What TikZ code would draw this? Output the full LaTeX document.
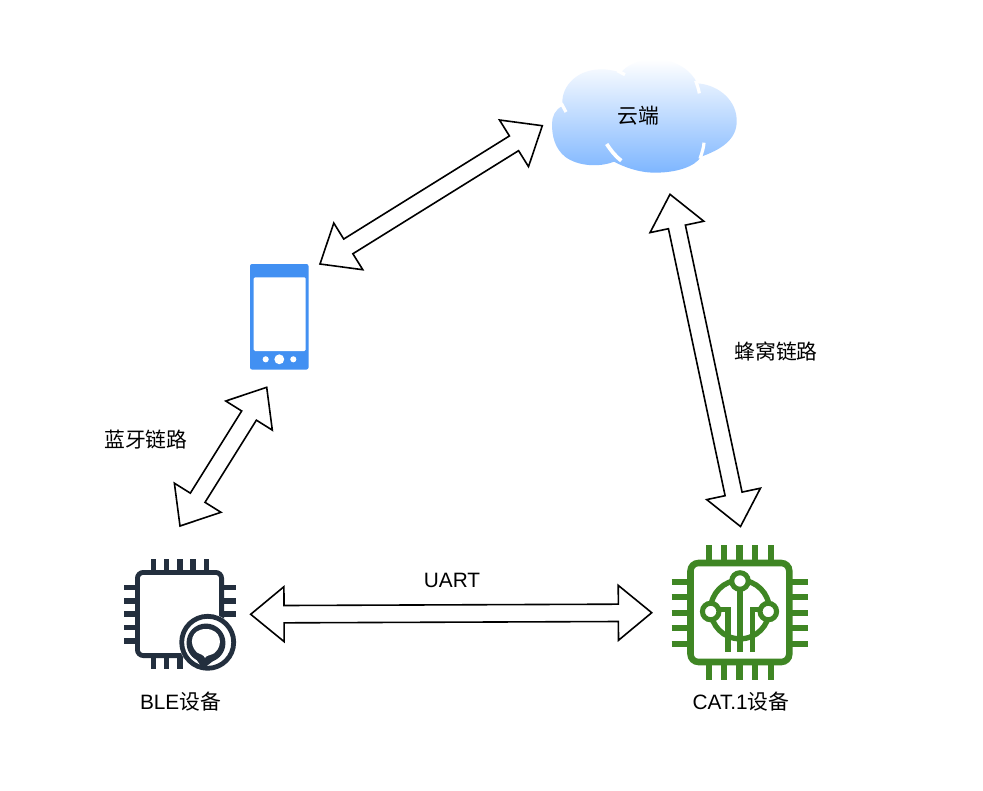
\documentclass[tikz,border=0pt]{standalone}
\usepackage{fontspec}
\setmainfont{Liberation Sans}
\newfontfamily\cjk{Noto Sans CJK SC}
\usetikzlibrary{calc}
\definecolor{bleink}{HTML}{232F3E}
\definecolor{catgreen}{HTML}{3F8624}
\definecolor{phoneblue}{HTML}{4290F2}
\definecolor{cloudblue}{HTML}{7EB6FF}
\tikzset{
  flatarrow/.style={draw=black,fill=white,line width=1.2pt,line join=miter},
  lbl/.style={inner sep=0pt,font=\fontsize{15.6pt}{18pt}\selectfont,text=black},
  blepin/.style={draw=bleink,line width=4.2pt},
  catpin/.style={draw=catgreen,line width=4.6pt},
  cattrace/.style={draw=catgreen,line width=4pt},
  anchorpt/.style={inner sep=0pt,minimum size=0pt}
}
% double block arrow between two named points
\newcommand{\blockarrow}[2]{%
  \draw[flatarrow] (#1)
    -- ($(#1)!25pt!(#2)!20.6pt!90:(#2)$)
    -- ($(#1)!25pt!(#2)!6.5pt!90:(#2)$)
    -- ($(#2)!25pt!(#1)!6.5pt!-90:(#1)$)
    -- ($(#2)!25pt!(#1)!20.6pt!-90:(#1)$)
    -- (#2)
    -- ($(#2)!25pt!(#1)!20.6pt!90:(#1)$)
    -- ($(#2)!25pt!(#1)!6.5pt!90:(#1)$)
    -- ($(#1)!25pt!(#2)!6.5pt!-90:(#2)$)
    -- ($(#1)!25pt!(#2)!20.6pt!-90:(#2)$)
    -- cycle;}
\begin{document}
\begin{tikzpicture}[x=0.75pt,y=-0.75pt]
\useasboundingbox (0,0) rectangle (983,790);
\fill[white] (0,0) rectangle (983,790);

% ---------- cloud ----------
\begin{scope}[shift={(540,50)},x=0.25pt,y=-0.25pt]
  \shade[top color=white,bottom color=cloudblue]
    (68,168) .. controls (60,115) and (105,60) .. (180,58)
    .. controls (205,57) and (230,64) .. (243,68)
    .. controls (262,42) and (305,28) .. (345,28)
    .. controls (410,30) and (452,60) .. (472,100)
    .. controls (540,105) and (592,155) .. (590,215)
    .. controls (590,270) and (540,300) .. (483,320)
    .. controls (465,350) and (410,368) .. (345,368)
    .. controls (295,368) and (250,350) .. (222,335)
    .. controls (180,352) and (115,350) .. (75,320)
    .. controls (45,295) and (36,260) .. (36,222)
    .. controls (36,200) and (45,178) .. (68,168) -- cycle;
  \draw[white,line width=2.4pt] (64,160) -- (78,186);
  \draw[white,line width=2.4pt] (232,62) -- (255,74);
  \draw[white,line width=2.4pt] (467,92) .. controls (472,106) and (476,118) .. (478,130);
  \draw[white,line width=2.4pt] (492,278) .. controls (491,292) and (487,306) .. (480,326);
  \draw[white,line width=2.8pt] (200,282) .. controls (212,300) and (225,318) .. (244,332);
\end{scope}
\node[lbl] (cloudlabel) at (638,115.5) {\cjk 云端};

% ---------- phone ----------
\node[anchorpt] (phone) at (279,317) {};
\fill[phoneblue,rounded corners=1.5pt] (250,264) rectangle (308.5,369.5);
\fill[white,rounded corners=1pt] (253.7,277.3) rectangle (305.7,351);
\fill[white] (265.7,359.3) circle[radius=2.3pt];
\fill[white] (279.3,359.3) circle[radius=3.7pt];
\fill[white] (293.3,359.3) circle[radius=2.3pt];

% ---------- BLE chip ----------
\node[anchorpt] (ble) at (180,614) {};
\foreach \x in {153.3,166.6,179.9,193.2,206.5} \draw[blepin] (\x,559) -- (\x,572);
\foreach \x in {153.3,166.6,179.9} \draw[blepin] (\x,656) -- (\x,669);
\foreach \y in {587.3,600.7,614,627.3,640.7} \draw[blepin] (124,\y) -- (137,\y);
\foreach \y in {587.3,600.7,614} \draw[blepin] (222,\y) -- (235.7,\y);
\draw[draw=bleink,line width=3.6pt,rounded corners=4.5pt] (137.4,572.4) rectangle (221.6,655.6);
\fill[white] (207.7,642.3) circle[radius=21.5pt];
\draw[bleink,line width=3.6pt] (207.7,642.3) circle[radius=19.5pt];
\fill[bleink] (206,643) circle[radius=14.6pt];
\fill[bleink] (194,656) -- (218,657) -- (203,669) -- cycle;
\fill[white]
  (205,658) .. controls (204,655) and (200,654) .. (197,652.5)
  .. controls (188,644) and (191,629) .. (206,629)
  .. controls (221,629) and (224,645) .. (214.5,653)
  .. controls (211,655.5) and (206,655) .. (205,658) -- cycle;

% ---------- CAT.1 chip ----------
\node[anchorpt] (cat) at (740,612.5) {};
\foreach \x in {708.7,724,739.5,755,770.7} {
  \draw[catpin] (\x,545) -- (\x,563);
  \draw[catpin] (\x,662) -- (\x,680);}
\foreach \y in {581.7,597,612.7,628.3,643.7} {
  \draw[catpin] (671.7,\y) -- (690,\y);
  \draw[catpin] (789,\y) -- (808,\y);}
\draw[draw=catgreen,line width=4.9pt,rounded corners=6pt] (690.5,563) rectangle (789.3,662);
\draw[cattrace] (740,609.5) circle[radius=22pt];
\draw[cattrace,line join=miter] (710.7,609.3) -- (728,609.3) -- (728,651.7);
\draw[cattrace,line join=miter] (768.3,609.3) -- (752.3,609.3) -- (752.3,651.7);
\draw[cattrace] (740,581) -- (740,651.7);
\draw[catgreen,line width=3.8pt,fill=white] (740,581) circle[radius=6.2pt];
\draw[catgreen,line width=3.8pt,fill=white] (710.7,611.5) circle[radius=6.2pt];
\draw[catgreen,line width=3.8pt,fill=white] (768.3,611.5) circle[radius=6.2pt];

% ---------- connectors ----------
\coordinate (phoneEnd) at (320,264);
\coordinate (cloudEnd) at (542.3,125.7);
\coordinate (cloudDown) at (670,194.3);
\coordinate (catUp) at (740.5,526.5);
\coordinate (phoneDown) at (266.7,387.3);
\coordinate (bleUp) at (180,526);
\coordinate (bleRight) at (250.7,614.3);
\coordinate (catLeft) at (651.7,612.7);
\blockarrow{phoneEnd}{cloudEnd}
\blockarrow{cloudDown}{catUp}
\blockarrow{phoneDown}{bleUp}
\blockarrow{bleRight}{catLeft}

% ---------- labels ----------
\node[lbl] (uart) at (452,580) {UART};
\node[lbl] (bt) at (146,440) {\cjk 蓝牙链路};
\node[lbl] (cell) at (776,351) {\cjk 蜂窝链路};
\node[lbl] (blename) at (180.5,702) {BLE{\cjk 设备}};
\node[lbl] (catname) at (741,702) {CAT.1{\cjk 设备}};
\end{tikzpicture}
\end{document}
